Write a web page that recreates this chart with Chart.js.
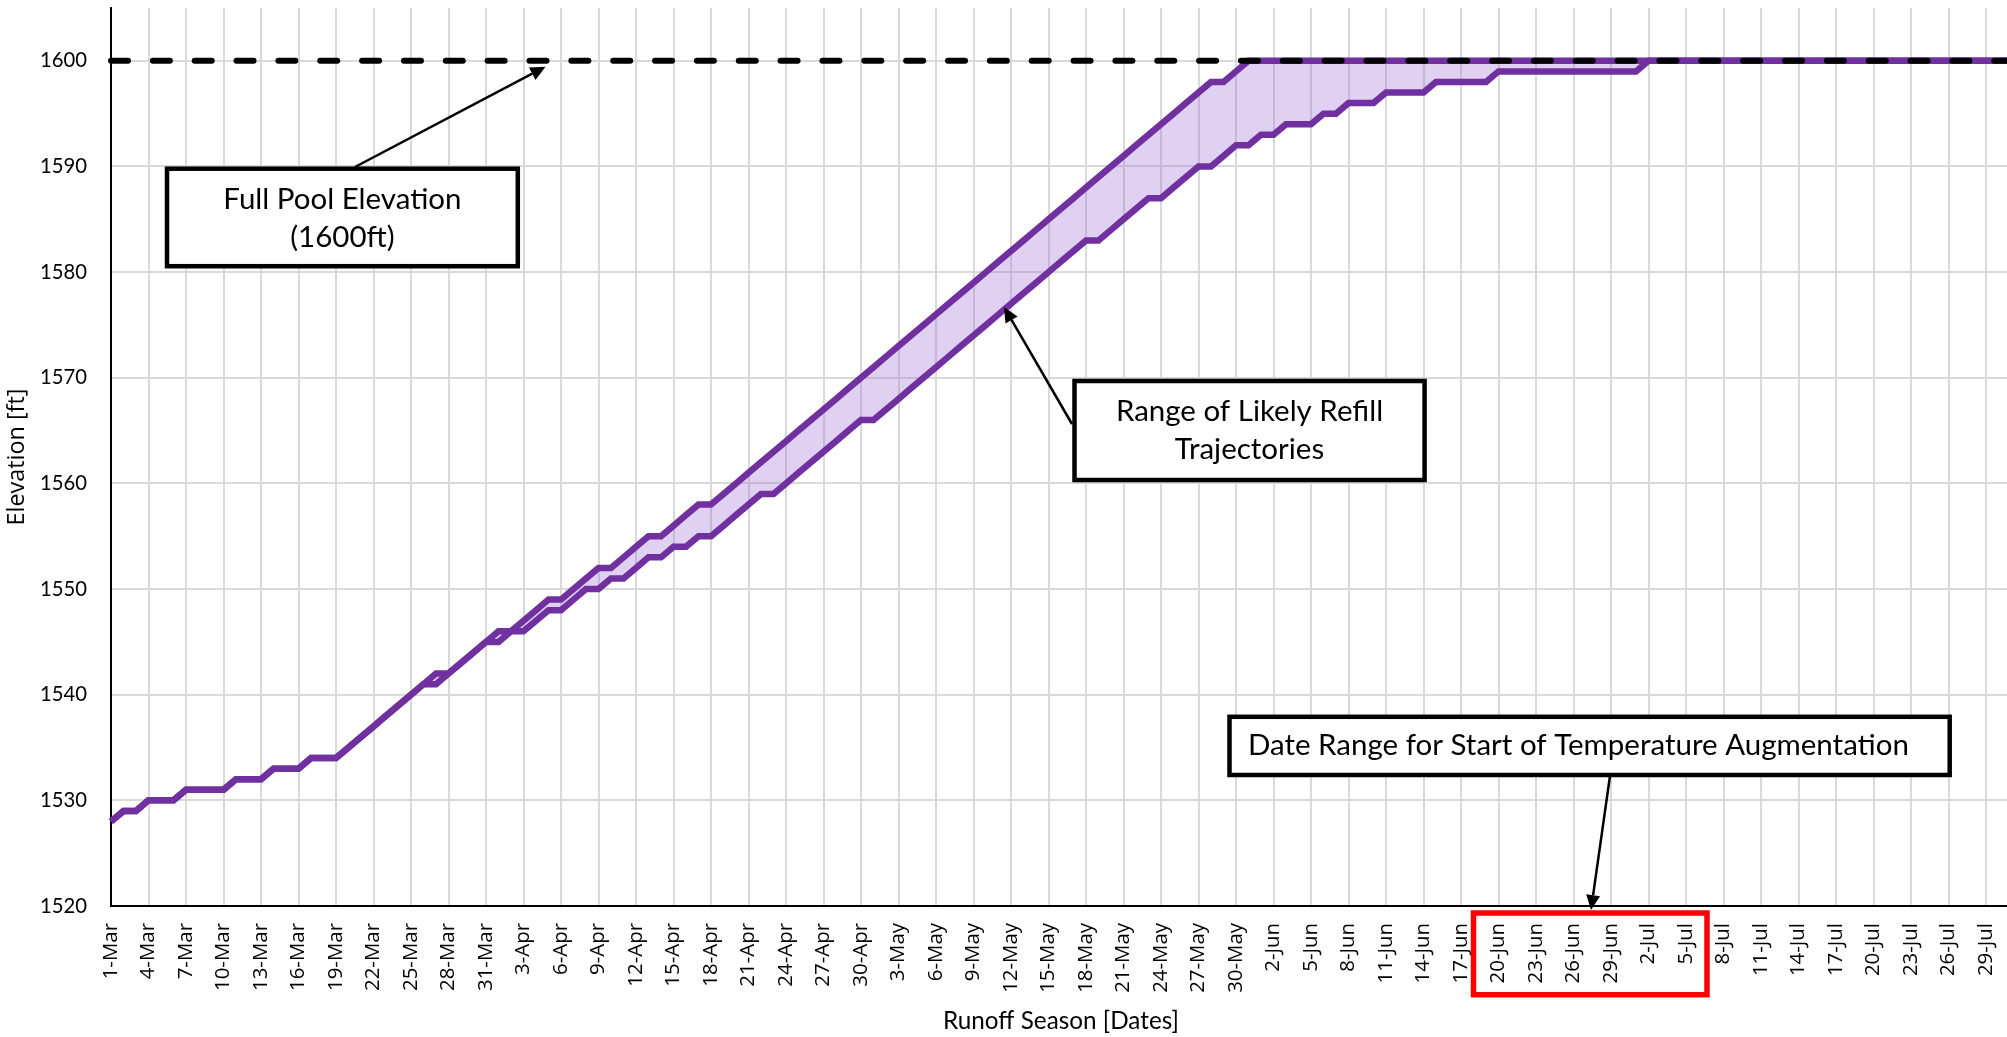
<!DOCTYPE html>
<html>
<head>
<meta charset="utf-8">
<script src="https://cdn.jsdelivr.net/npm/chart.js@4.4.1/dist/chart.umd.min.js"></script>
<style>
html,body{margin:0;padding:0;overflow:hidden;background:#fff;width:2007px;height:1037px}
#wrap{position:absolute;left:0;top:0;width:2020px;height:1037px}
</style>
</head>
<body>
<div id="wrap"><canvas id="c" width="2020" height="1037"></canvas></div>
<script>
// ---------------- DATA ----------------
const dates = [
'1-Mar','2-Mar','3-Mar','4-Mar','5-Mar','6-Mar','7-Mar','8-Mar','9-Mar','10-Mar',
'11-Mar','12-Mar','13-Mar','14-Mar','15-Mar','16-Mar','17-Mar','18-Mar','19-Mar','20-Mar',
'21-Mar','22-Mar','23-Mar','24-Mar','25-Mar','26-Mar','27-Mar','28-Mar','29-Mar','30-Mar','31-Mar',
'1-Apr','2-Apr','3-Apr','4-Apr','5-Apr','6-Apr','7-Apr','8-Apr','9-Apr','10-Apr',
'11-Apr','12-Apr','13-Apr','14-Apr','15-Apr','16-Apr','17-Apr','18-Apr','19-Apr','20-Apr',
'21-Apr','22-Apr','23-Apr','24-Apr','25-Apr','26-Apr','27-Apr','28-Apr','29-Apr','30-Apr',
'1-May','2-May','3-May','4-May','5-May','6-May','7-May','8-May','9-May','10-May',
'11-May','12-May','13-May','14-May','15-May','16-May','17-May','18-May','19-May','20-May',
'21-May','22-May','23-May','24-May','25-May','26-May','27-May','28-May','29-May','30-May','31-May',
'1-Jun','2-Jun','3-Jun','4-Jun','5-Jun','6-Jun','7-Jun','8-Jun','9-Jun','10-Jun',
'11-Jun','12-Jun','13-Jun','14-Jun','15-Jun','16-Jun','17-Jun','18-Jun','19-Jun','20-Jun',
'21-Jun','22-Jun','23-Jun','24-Jun','25-Jun','26-Jun','27-Jun','28-Jun','29-Jun','30-Jun',
'1-Jul','2-Jul','3-Jul','4-Jul','5-Jul','6-Jul','7-Jul','8-Jul','9-Jul','10-Jul',
'11-Jul','12-Jul','13-Jul','14-Jul','15-Jul','16-Jul','17-Jul','18-Jul','19-Jul','20-Jul',
'21-Jul','22-Jul','23-Jul','24-Jul','25-Jul','26-Jul','27-Jul','28-Jul','29-Jul','30-Jul','31-Jul'
];

const tickLabels = [
'1-Mar','4-Mar','7-Mar','10-Mar','13-Mar','16-Mar','19-Mar','22-Mar','25-Mar','28-Mar','31-Mar',
'3-Apr','6-Apr','9-Apr','12-Apr','15-Apr','18-Apr','21-Apr','24-Apr','27-Apr','30-Apr',
'3-May','6-May','9-May','12-May','15-May','18-May','21-May','24-May','27-May','30-May',
'2-Jun','5-Jun','8-Jun','11-Jun','14-Jun','17-Jun','20-Jun','23-Jun','26-Jun','29-Jun',
'2-Jul','5-Jul','8-Jul','11-Jul','14-Jul','17-Jul','20-Jul','23-Jul','26-Jul','29-Jul'
];

const yTicks = [1520,1530,1540,1550,1560,1570,1580,1590,1600];

// upper edge of the range of likely refill trajectories (ft), one value per day
const upperTrajectory = [
1528,1529,1529,1530,1530,1530,1531,1531,1531,1531,
1532,1532,1532,1533,1533,1533,1534,1534,1534,1535,
1536,1537,1538,1539,1540,1541,1542,1542,1543,1544,
1545,1546,1546,1547,1548,1549,1549,1550,1551,1552,
1552,1553,1554,1555,1555,1556,1557,1558,1558,1559,
1560,1561,1562,1563,1564,1565,1566,1567,1568,1569,
1570,1571,1572,1573,1574,1575,1576,1577,1578,1579,
1580,1581,1582,1583,1584,1585,1586,1587,1588,1589,
1590,1591,1592,1593,1594,1595,1596,1597,1598,1598,
1599,1600,1600,1600,1600,1600,1600,1600,1600,1600,
1600,1600,1600,1600,1600,1600,1600,1600,1600,1600,
1600,1600,1600,1600,1600,1600,1600,1600,1600,1600,
1600,1600,1600,1600,1600,1600,1600,1600,1600,1600,
1600,1600,1600,1600,1600,1600,1600,1600,1600,1600,
1600,1600,1600,1600,1600,1600,1600,1600,1600,1600,
1600,1600,1600
];

// lower edge of the range of likely refill trajectories (ft), one value per day
const lowerTrajectory = [
1528,1529,1529,1530,1530,1530,1531,1531,1531,1531,
1532,1532,1532,1533,1533,1533,1534,1534,1534,1535,
1536,1537,1538,1539,1540,1541,1541,1542,1543,1544,
1545,1545,1546,1546,1547,1548,1548,1549,1550,1550,
1551,1551,1552,1553,1553,1554,1554,1555,1555,1556,
1557,1558,1559,1559,1560,1561,1562,1563,1564,1565,
1566,1566,1567,1568,1569,1570,1571,1572,1573,1574,
1575,1576,1577,1578,1579,1580,1581,1582,1583,1583,
1584,1585,1586,1587,1587,1588,1589,1590,1590,1591,
1592,1592,1593,1593,1594,1594,1594,1595,1595,1596,
1596,1596,1597,1597,1597,1597,1598,1598,1598,1598,
1598,1599,1599,1599,1599,1599,1599,1599,1599,1599,
1599,1599,1599,1600,1600,1600,1600,1600,1600,1600,
1600,1600,1600,1600,1600,1600,1600,1600,1600,1600,
1600,1600,1600,1600,1600,1600,1600,1600,1600,1600,
1600,1600,1600
];

// full pool elevation reference line
const fullPoolDates = ['1-Mar','31-Jul'];
const fullPoolElev = [1600,1600];

// ---------------- FONT SIZING (fit text widths seen in the reference) ----------------
const SANS = 'Open Sans, Noto Sans, DejaVu Sans, sans-serif';
const CAL = 'Lato, Open Sans, sans-serif';
const mctx = document.createElement('canvas').getContext('2d');
function fitSize(txt, family, target) {
  mctx.font = '100px ' + family;
  return +(100 * target / mctx.measureText(txt).width).toFixed(2);
}
const xTickSize = fitSize('10-Mar', SANS, 68);
const yTitleSize = fitSize('Elevation [ft]', SANS, 137);
const yTickSize = fitSize('1600', CAL, 47);
const xTitleSize = fitSize('Runoff Season [Dates]', CAL, 236);

// ---------------- ANNOTATIONS (callout boxes, arrows, highlight) ----------------
const annotationPlugin = {
  id: 'callouts',
  afterDraw(chart) {
    const ctx = chart.ctx;
    ctx.save();
    const longTxt = 'Date Range for Start of Temperature Augmentation';
    const fs = fitSize(longTxt, CAL, 661);
    const font = fs + 'px ' + CAL;

    function box(x1, y1, x2, y2) {
      ctx.fillStyle = '#fff';
      ctx.fillRect(x1, y1, x2 - x1, y2 - y1);
      ctx.lineWidth = 4.5;
      ctx.strokeStyle = '#000';
      ctx.lineJoin = 'miter';
      ctx.strokeRect(x1, y1, x2 - x1, y2 - y1);
    }
    function arrow(x1, y1, x2, y2) {
      const a = Math.atan2(y2 - y1, x2 - x1), L = 15, W = 7;
      const bx = x2 - L * Math.cos(a), by = y2 - L * Math.sin(a);
      ctx.strokeStyle = '#000';
      ctx.lineWidth = 2.5;
      ctx.beginPath(); ctx.moveTo(x1, y1); ctx.lineTo(bx, by); ctx.stroke();
      ctx.fillStyle = '#000';
      ctx.beginPath();
      ctx.moveTo(x2, y2);
      ctx.lineTo(bx - W * Math.sin(a), by + W * Math.cos(a));
      ctx.lineTo(bx + W * Math.sin(a), by - W * Math.cos(a));
      ctx.closePath(); ctx.fill();
    }
    function text(t, x, y, align) {
      ctx.fillStyle = '#000';
      ctx.font = font;
      ctx.textAlign = align;
      ctx.textBaseline = 'alphabetic';
      ctx.fillText(t, x, y);
    }

    arrow(355, 167, 545.5, 66.7);
    box(167, 168.7, 517.8, 266.2);
    text('Full Pool Elevation', 342.4, 209, 'center');
    text('(1600ft)', 342.4, 247, 'center');

    arrow(1072, 424, 1004, 307);
    box(1074.5, 381, 1424.6, 480);
    text('Range of Likely Refill', 1249.5, 421, 'center');
    text('Trajectories', 1249.5, 459, 'center');

    arrow(1610, 776, 1591, 910);
    box(1229.5, 716.8, 1949.7, 775);
    text(longTxt, 1248, 755, 'left');

    ctx.strokeStyle = '#ff0000';
    ctx.lineWidth = 5.5;
    ctx.strokeRect(1473.5, 913, 1707 - 1473.5, 994.7 - 913);
    ctx.restore();
  }
};

// ---------------- CHART ----------------
const purple = '#7030a0';
new Chart(document.getElementById('c'), {
  type: 'line',
  data: {
    labels: dates,
    datasets: [
      {
        label: 'Full Pool Elevation',
        data: fullPoolDates.map((d, i) => ({ x: d, y: fullPoolElev[i] })),
        borderColor: '#000', borderWidth: 6, borderDash: [17, 24.85], borderCapStyle: 'round',
        pointRadius: 0, fill: false, order: 0
      },
      {
        label: 'Upper trajectory',
        data: upperTrajectory,
        borderColor: purple, borderWidth: 6.5, pointRadius: 0,
        fill: '+1', backgroundColor: 'rgba(160,110,210,0.32)', order: 1
      },
      {
        label: 'Lower trajectory',
        data: lowerTrajectory,
        borderColor: purple, borderWidth: 6.5, pointRadius: 0,
        fill: false, order: 2
      }
    ]
  },
  options: {
    responsive: false,
    animation: false,
    devicePixelRatio: 1,
    layout: { padding: { top: 8, right: 9, left: 0, bottom: 0 } },
    plugins: {
      legend: { display: false },
      tooltip: { enabled: false },
      filler: { drawTime: 'beforeDatasetsDraw' }
    },
    scales: {
      x: {
        type: 'category',
        offset: false,
        grid: { color: '#d9d9d9', lineWidth: 2, drawTicks: false },
        border: { display: true, color: '#000', width: 2 },
        ticks: {
          autoSkip: false, maxRotation: 90, minRotation: 90, padding: 17,
          color: '#000', font: { family: SANS, size: xTickSize }
        },
        afterBuildTicks(s) { s.ticks = s.ticks.filter(t => tickLabels.includes(dates[t.value])); },
        afterFit(s) { s.height = 131; s.paddingLeft = 0; s.paddingRight = 0; },
        title: {
          display: true, text: 'Runoff Season [Dates]', color: '#000',
          font: { family: CAL, size: xTitleSize }, padding: { top: 0, bottom: 1 }
        }
      },
      y: {
        min: 1520, max: 1605,
        grid: { color: '#d9d9d9', lineWidth: 2, drawTicks: false },
        border: { display: true, color: '#000', width: 2 },
        ticks: {
          padding: 24, color: '#000', font: { family: CAL, size: yTickSize },
          callback: v => String(v)
        },
        afterBuildTicks(s) { s.ticks = yTicks.map(v => ({ value: v })); },
        afterFit(s) { s.width = 111; s.paddingTop = 0; s.paddingBottom = 0; },
        title: {
          display: true, text: 'Elevation [ft]', color: '#000',
          font: { family: SANS, size: yTitleSize }, padding: { top: 3.5, bottom: 0 }
        }
      }
    }
  },
  plugins: [annotationPlugin]
});
</script>
</body>
</html>
